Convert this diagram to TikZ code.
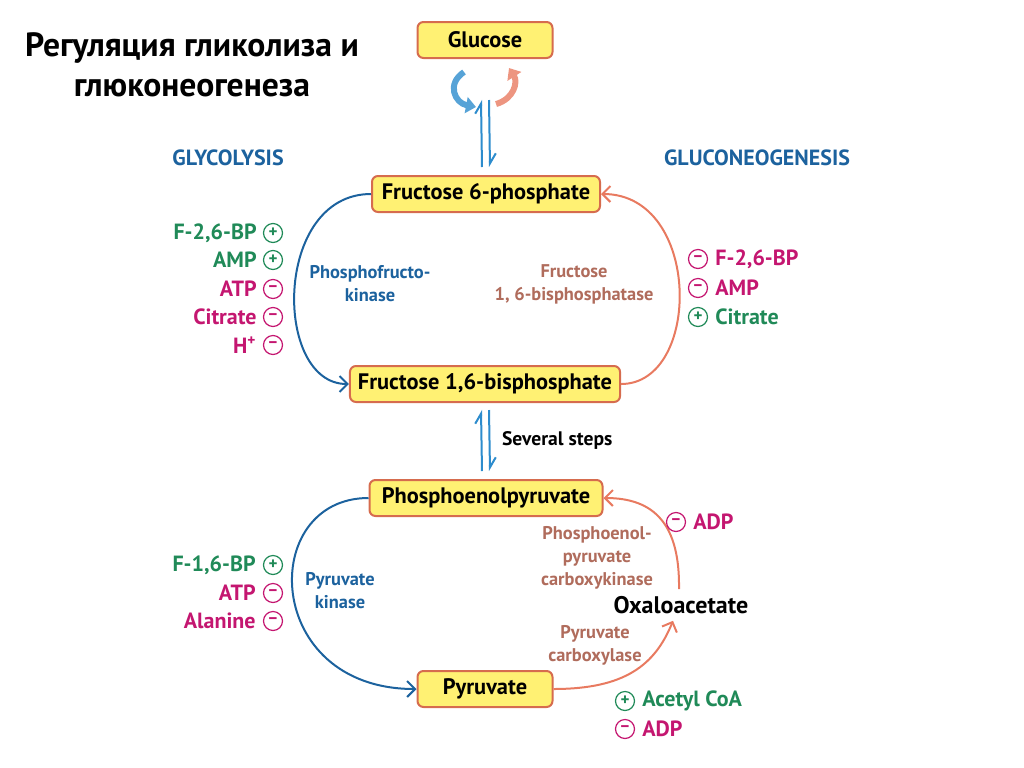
\documentclass[tikz,border=0pt]{standalone}
\usepackage{fontspec}
\setmainfont{PT Sans}
\usetikzlibrary{arrows.meta,positioning}
\definecolor{boxfill}{RGB}{255,241,115}
\definecolor{boxline}{RGB}{214,108,78}
\definecolor{glyblue}{RGB}{28,98,158}
\definecolor{harpblue}{RGB}{45,140,205}
\definecolor{gngsalmon}{RGB}{232,122,96}
\definecolor{enzbrown}{RGB}{176,108,92}
\definecolor{actgreen}{RGB}{32,138,88}
\definecolor{inhred}{RGB}{196,22,112}

\begin{document}
\begin{tikzpicture}[x=0.5pt,y=-0.5pt,
  met/.style={draw=boxline, fill=boxfill, rounded corners=3pt, line width=1pt,
    font=\bfseries\fontsize{11.2}{13}\selectfont, minimum height=18pt, inner xsep=4pt},
  enz/.style={font=\bfseries\fontsize{9.2}{11.5}\selectfont, align=center, text=#1},
  reg/.style={font=\bfseries\fontsize{11}{13}\selectfont, text=#1, inner sep=1pt},
  sgn/.style={circle, draw=#1, text=#1, line width=0.6pt, inner sep=0pt,
    minimum size=9.5pt, font=\bfseries\fontsize{8.5}{8.5}\selectfont},
  fwd/.style={glyblue, line width=1pt, -{Straight Barb[length=4pt, width=8pt]}},
  rev/.style={gngsalmon, line width=1pt, -{Straight Barb[length=4pt, width=8pt]}},
  harp/.style={harpblue, line width=1pt, -{Straight Barb[harpoon, length=5pt, width=6pt]}},
  path/.style={font=\bfseries\fontsize{11}{13}\selectfont, text=glyblue}
]
\useasboundingbox (0,0) rectangle (1024,767);

% --- title ---
\node[font=\bfseries\fontsize{16.8}{20}\selectfont, align=center] (title) at (192,65)
  {Регуляция гликолиза и\\глюконеогенеза};

% --- metabolites ---
\node[met, minimum width=67.5pt] (glc) at (485,40) {Glucose};
\node[met, minimum width=114pt] (f6p) at (486,194) {Fructose 6-phosphate};
\node[met, minimum width=135pt] (f16bp) at (485,384) {Fructose 1,6-bisphosphate};
\node[met, minimum width=116.5pt] (pep) at (486,498) {Phosphoenolpyruvate};
\node[met, minimum width=67.5pt] (pyr) at (485,689) {Pyruvate};
\node[font=\bfseries\fontsize{12}{14}\selectfont] (oaa) at (681,605) {Oxaloacetate};

% --- pathway names ---
\node[path] (glyname) at (228,158) {GLYCOLYSIS};
\node[path] (gngname) at (757,158) {GLUCONEOGENESIS};

% --- glucose turnover ---
\coordinate (gtop) at (485,100);
\draw[harpblue!80, line width=3pt, -{Triangle[length=5pt, width=8pt]}]
  (464,72) .. controls (446,84) and (455,103) .. (476,107);
\draw[gngsalmon!80, line width=3pt, -{Triangle[length=5pt, width=8pt]}]
  (496,104) .. controls (514,99) and (518,82) .. (509,68);
\draw[harp] ([xshift=-2pt, yshift=4pt]f6p.north) -- ([xshift=-2pt]gtop);
\draw[harp] ([xshift=2pt]gtop) -- ([xshift=2pt, yshift=4pt]f6p.north);

% --- PFK / FBPase cycle ---
\draw[fwd] (f6p.west) .. controls (273,194) and (273,384) .. (f16bp.west);
\draw[rev] (f16bp.east) .. controls (702,384) and (702,194) .. (f6p.east);
\node[enz=glyblue] (pfk) at (370,284) {Phosphofructo-\\kinase};
\node[enz=enzbrown] (fbp) at (574,284) {Fructose\\1, 6-bisphosphatase};

% regulators of PFK
\node[reg=actgreen, anchor=east] (r1) at (259,233) {F-2,6-BP};
\node[reg=actgreen, anchor=east] (r2) at (259,260) {AMP};
\node[reg=inhred, anchor=east] (r3) at (259,289) {ATP};
\node[reg=inhred, anchor=east] (r4) at (259,317) {Citrate};
\node[reg=inhred, anchor=east] (r5) at (259,345) {H\textsuperscript{+}};
\node[sgn=actgreen] (s1) at (273,233) {+};
\node[sgn=actgreen] (s2) at (273,260) {+};
\node[sgn=inhred] (s3) at (273,289) {--};
\node[sgn=inhred] (s4) at (273,317) {--};
\node[sgn=inhred] (s5) at (273,345) {--};

% regulators of FBPase
\node[sgn=inhred] (s6) at (698,259) {--};
\node[sgn=inhred] (s7) at (698,288) {--};
\node[sgn=actgreen] (s8) at (698,317) {+};
\node[reg=inhred, anchor=west] (r6) at (713,259) {F-2,6-BP};
\node[reg=inhred, anchor=west] (r7) at (713,288) {AMP};
\node[reg=actgreen, anchor=west] (r8) at (713,317) {Citrate};

% --- several steps ---
\coordinate (stop) at (485,410);
\draw[harp] ([xshift=-2pt, yshift=4pt]pep.north) -- ([xshift=-2pt]stop);
\draw[harp] ([xshift=2pt]stop) -- ([xshift=2pt, yshift=4pt]pep.north);
\node[font=\bfseries\fontsize{9.8}{11}\selectfont, anchor=west] (steps) at (495,440) {Several steps};

% --- PK / PC-PEPCK cycle ---
\draw[fwd] (pep.west) .. controls (258,498) and (262,689) .. (pyr.west);
\draw[rev] (pyr.east) .. controls (625,689) and (655,665) .. ([xshift=-4pt]oaa.south);
\draw[rev] ([xshift=-1pt]oaa.north) .. controls (680,525) and (655,498) .. (pep.east);
\node[enz=glyblue] (pk) at (340,591) {Pyruvate\\kinase};
\node[enz=enzbrown] (pepck) at (597,558) {Phosphoenol-\\pyruvate\\carboxykinase};
\node[enz=enzbrown] (pc) at (595,645) {Pyruvate\\carboxylase};

% regulators of PK
\node[reg=actgreen, anchor=east] (r9) at (258,565) {F-1,6-BP};
\node[reg=inhred, anchor=east] (r10) at (258,593) {ATP};
\node[reg=inhred, anchor=east] (r11) at (258,621) {Alanine};
\node[sgn=actgreen] (s9) at (273,565) {+};
\node[sgn=inhred] (s10) at (273,593) {--};
\node[sgn=inhred] (s11) at (273,621) {--};

% regulators of PEPCK and PC
\node[sgn=inhred] (s12) at (676,522) {--};
\node[reg=inhred, anchor=west] (r12) at (691,522) {ADP};
\node[sgn=actgreen] (s13) at (625,701) {+};
\node[reg=actgreen, anchor=west] (r13) at (640,701) {Acetyl CoA};
\node[sgn=inhred] (s14) at (625,729) {--};
\node[reg=inhred, anchor=west] (r14) at (640,729) {ADP};

\end{tikzpicture}
\end{document}
